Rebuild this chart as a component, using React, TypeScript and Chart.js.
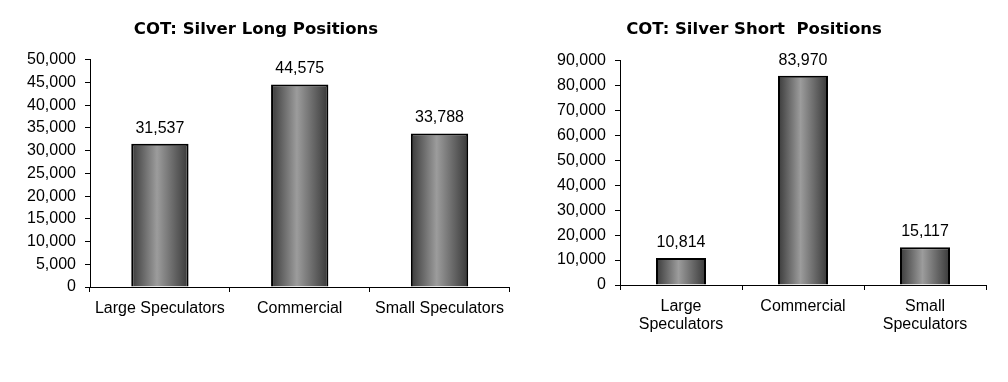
import React, { useEffect, useRef } from 'react';
import { Chart, registerables } from 'chart.js';

Chart.register(...registerables);

// ---- data ----
const longTitle = 'COT: Silver Long Positions';
const longCategories: (string | string[])[] = ['Large Speculators', 'Commercial', 'Small Speculators'];
const longValues = [31537, 44575, 33788];
const longAxisMax = 50000;
const longAxisStep = 5000;

const shortTitle = 'COT: Silver Short  Positions';
const shortCategories: (string | string[])[] = [['Large', 'Speculators'], 'Commercial', ['Small', 'Speculators']];
const shortValues = [10814, 83970, 15117];
const shortAxisMax = 90000;
const shortAxisStep = 10000;

const FONT = '"Liberation Sans", Arial, sans-serif';
const TITLE_FONT = '"DejaVu Sans", Verdana, sans-serif';
const BAR_PCT = 0.41;

const valueLabels = {
  id: 'valueLabels',
  afterDatasetsDraw(chart: any) {
    const ctx = chart.ctx;
    const meta = chart.getDatasetMeta(0);
    ctx.save();
    ctx.font = `16px ${FONT}`;
    ctx.fillStyle = '#000';
    ctx.textAlign = 'center';
    ctx.textBaseline = 'alphabetic';
    meta.data.forEach((el: any, i: number) => {
      const v = chart.data.datasets[0].data[i] as number;
      ctx.fillText(v.toLocaleString('en-US'), el.x, el.y - 11);
    });
    ctx.restore();
  },
};

function barGradient(c: any) {
  const chart = c.chart;
  const xs = chart.scales && chart.scales.x;
  if (!chart.chartArea || !xs || c.dataIndex === undefined) return '#777';
  const n = chart.data.labels.length;
  const cx = xs.getPixelForValue(c.dataIndex);
  const w = (xs.width / n) * BAR_PCT;
  const g = chart.ctx.createLinearGradient(cx - w / 2, 0, cx + w / 2, 0);
  g.addColorStop(0, '#3a3a3a');
  g.addColorStop(0.45, '#9c9c9c');
  g.addColorStop(1, '#383838');
  return g;
}

type BoxProps = {
  left: number;
  width: number;
  title: string;
  labels: (string | string[])[];
  values: number[];
  max: number;
  step: number;
  padLeft: number;
  padRight: number;
  yWidth: number;
  xHeight: number;
  titleTop: number;
  titleBottom: number;
};

function ChartBox(p: BoxProps) {
  const ref = useRef<HTMLCanvasElement | null>(null);
  useEffect(() => {
    if (!ref.current) return;
    const chart = new Chart(ref.current, {
      type: 'bar',
      data: {
        labels: p.labels as any,
        datasets: [
          {
            data: p.values,
            backgroundColor: barGradient as any,
            borderColor: '#000',
            borderWidth: 2,
            barPercentage: BAR_PCT,
            categoryPercentage: 1,
          },
        ],
      },
      plugins: [valueLabels],
      options: {
        responsive: false,
        animation: false,
        devicePixelRatio: 1,
        layout: { padding: { left: p.padLeft, right: p.padRight, top: 0, bottom: 0 } },
        plugins: {
          legend: { display: false },
          tooltip: { enabled: false },
          title: {
            display: true,
            text: p.title,
            color: '#000',
            font: { family: TITLE_FONT, size: 16.5, weight: 'bold', lineHeight: 1.2 },
            padding: { top: p.titleTop, bottom: p.titleBottom },
          },
        },
        scales: {
          x: {
            offset: true,
            grid: {
              offset: true,
              drawOnChartArea: false,
              drawTicks: true,
              tickLength: 5,
              color: '#000',
            },
            border: { display: true, color: '#000', width: 1 },
            ticks: {
              color: '#000',
              font: { family: FONT, size: 16, lineHeight: 1.125 },
              padding: 8,
              maxRotation: 0,
              autoSkip: false,
            },
            afterFit: (s: any) => {
              s.height = p.xHeight;
            },
          },
          y: {
            min: 0,
            max: p.max,
            grid: {
              drawOnChartArea: false,
              drawTicks: true,
              tickLength: 5,
              color: '#000',
            },
            border: { display: true, color: '#000', width: 1 },
            ticks: {
              stepSize: p.step,
              color: '#000',
              font: { family: FONT, size: 16 },
              padding: 9,
              callback: (v: any) => Number(v).toLocaleString('en-US'),
            },
            afterFit: (s: any) => {
              s.width = p.yWidth;
            },
          },
        },
      } as any,
    });
    return () => chart.destroy();
  }, []);
  return (
    <canvas
      ref={ref}
      width={p.width}
      height={382}
      style={{ position: 'absolute', left: p.left, top: 0, width: p.width, height: 382 }}
    />
  );
}

export default function App() {
  return (
    <div style={{ position: 'absolute', left: 0, top: 0, width: 1008, height: 382, background: '#fff' }}>
      <ChartBox
        left={0}
        width={512}
        title={longTitle}
        labels={longCategories}
        values={longValues}
        max={longAxisMax}
        step={longAxisStep}
        padLeft={0}
        padRight={0}
        yWidth={90}
        xHeight={95}
        titleTop={20}
        titleBottom={20}
      />
      <ChartBox
        left={512}
        width={496}
        title={shortTitle}
        labels={shortCategories}
        values={shortValues}
        max={shortAxisMax}
        step={shortAxisStep}
        padLeft={10}
        padRight={22}
        yWidth={98}
        xHeight={97}
        titleTop={20}
        titleBottom={21}
      />
    </div>
  );
}
